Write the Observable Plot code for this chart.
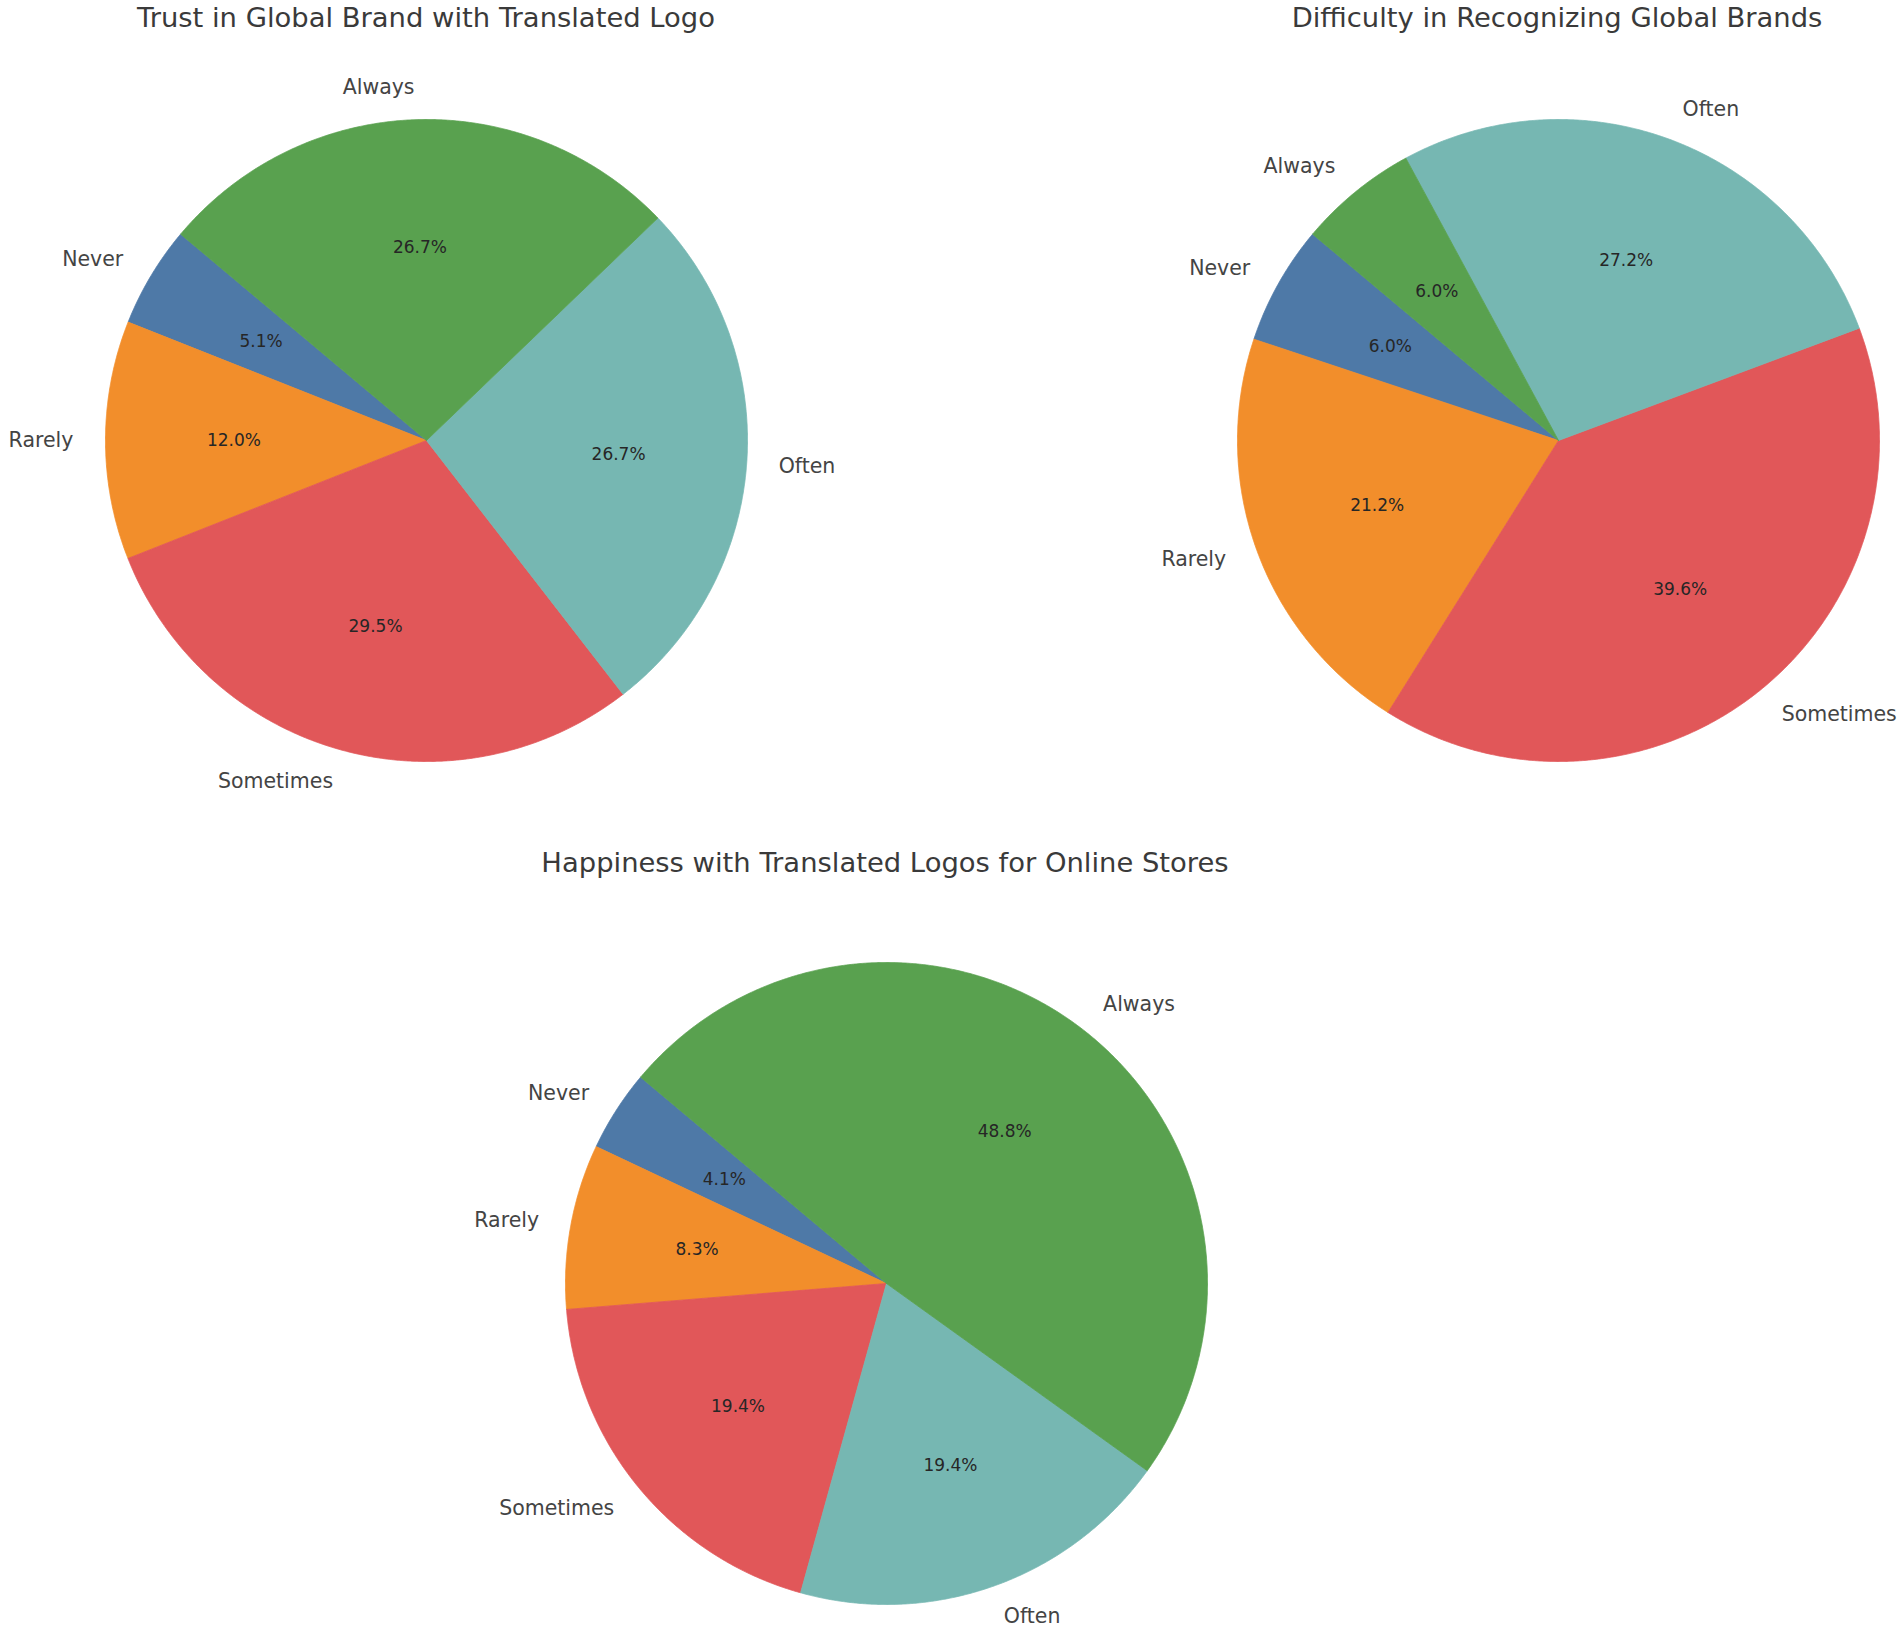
<!DOCTYPE html>
<html>
<head>
<meta charset="utf-8">
<script src="https://cdn.jsdelivr.net/npm/d3@7"></script>
<script src="https://cdn.jsdelivr.net/npm/@observablehq/plot@0.6"></script>
<style>
html, body { margin: 0; padding: 0; background: #ffffff; overflow: hidden; }
#root { position: relative; width: 1902px; height: 1629px; overflow: hidden; font-family: "DejaVu Sans", sans-serif; background: #fff; }
.title { position: absolute; font-size: 27.4px; color: #3a3a3a; white-space: nowrap; transform: translate(-50%, -50%); font-family: "DejaVu Sans", sans-serif; }
.panel { position: absolute; }
.panel svg { display: block; overflow: visible; }
</style>
</head>
<body>
<div id="root"></div>
<script>
// ---- data ----
const categories = ["Never", "Rarely", "Sometimes", "Often", "Always"];
const sliceColors = ["#4e79a7", "#f28e2b", "#e15759", "#76b7b2", "#59a14f"];
const trustValues = [5.1, 12.0, 29.5, 26.7, 26.7];
const difficultyValues = [6.0, 21.2, 39.6, 27.2, 6.0];
const happinessValues = [4.1, 8.3, 19.4, 19.4, 48.8];
const chartTitles = [
  "Trust in Global Brand with Translated Logo",
  "Difficulty in Recognizing Global Brands",
  "Happiness with Translated Logos for Online Stores"
];

// ---- layout ----
const startAngle = 140;   // degrees, counter-clockwise
const radiusPx = 321;
const panels = [
  { values: trustValues,      title: chartTitles[0], cx: 426,  cy: 440,  box: [0, 60, 951, 780],    tx: 426,  ty: 17 },
  { values: difficultyValues, title: chartTitles[1], cx: 1558, cy: 440,  box: [951, 60, 951, 780],  tx: 1557, ty: 17 },
  { values: happinessValues,  title: chartTitles[2], cx: 886,  cy: 1283, box: [380, 900, 1040, 729], tx: 885,  ty: 861.5 }
];

const root = document.getElementById("root");
const rad = d => d * Math.PI / 180;

function slicesOf(values) {
  const total = d3.sum(values);
  let a = startAngle;
  return values.map((v, i) => {
    const a0 = a, a1 = a + v / total * 360;
    a = a1;
    return { cat: categories[i], value: v, pct: (v / total * 100).toFixed(1) + "%", a0, a1, mid: (a0 + a1) / 2 };
  });
}

for (const p of panels) {
  const slices = slicesOf(p.values);
  const pts = [];
  for (const s of slices) {
    pts.push({ cat: s.cat, x: 0, y: 0 });
    for (let t = s.a0; t < s.a1; t += 0.2) pts.push({ cat: s.cat, x: Math.cos(rad(t)), y: Math.sin(rad(t)) });
    pts.push({ cat: s.cat, x: Math.cos(rad(s.a1)), y: Math.sin(rad(s.a1)) });
    pts.push({ cat: s.cat, x: 0, y: 0 });
  }
  const labels = slices.map(s => ({ label: s.cat, x: 1.1 * Math.cos(rad(s.mid)), y: 1.1 * Math.sin(rad(s.mid)) }));
  const pcts = slices.map(s => ({ label: s.pct, x: 0.6 * Math.cos(rad(s.mid)), y: 0.6 * Math.sin(rad(s.mid)) }));

  const [left, top, w, h] = p.box;
  const xDomain = [-(p.cx - left) / radiusPx, (left + w - p.cx) / radiusPx];
  const yDomain = [-(top + h - p.cy) / radiusPx, (p.cy - top) / radiusPx];

  const chart = Plot.plot({
    width: w,
    height: h,
    margin: 0,
    style: { fontFamily: "DejaVu Sans", background: "white", overflow: "visible" },
    x: { domain: xDomain, axis: null },
    y: { domain: yDomain, axis: null },
    color: { type: "ordinal", domain: categories, range: sliceColors },
    marks: [
      Plot.line(pts, { x: "x", y: "y", z: "cat", fill: "cat", stroke: "cat", strokeWidth: 0.8, curve: "linear" }),
      Plot.text(labels.filter(d => d.x > 0), { x: "x", y: "y", text: "label", textAnchor: "start", fontSize: 20.5, fill: "#444444", fontFamily: "DejaVu Sans" }),
      Plot.text(labels.filter(d => d.x <= 0), { x: "x", y: "y", text: "label", textAnchor: "end", fontSize: 20.5, fill: "#444444", fontFamily: "DejaVu Sans" }),
      Plot.text(pcts, { x: "x", y: "y", text: "label", textAnchor: "middle", fontSize: 17, fill: "#262626", fontFamily: "DejaVu Sans" })
    ]
  });
  const div = document.createElement("div");
  div.className = "panel";
  div.style.left = left + "px";
  div.style.top = top + "px";
  div.appendChild(chart);
  root.appendChild(div);

  const t = document.createElement("div");
  t.className = "title";
  t.style.left = p.tx + "px";
  t.style.top = p.ty + "px";
  t.textContent = p.title;
  root.appendChild(t);
}
</script>
</body>
</html>
